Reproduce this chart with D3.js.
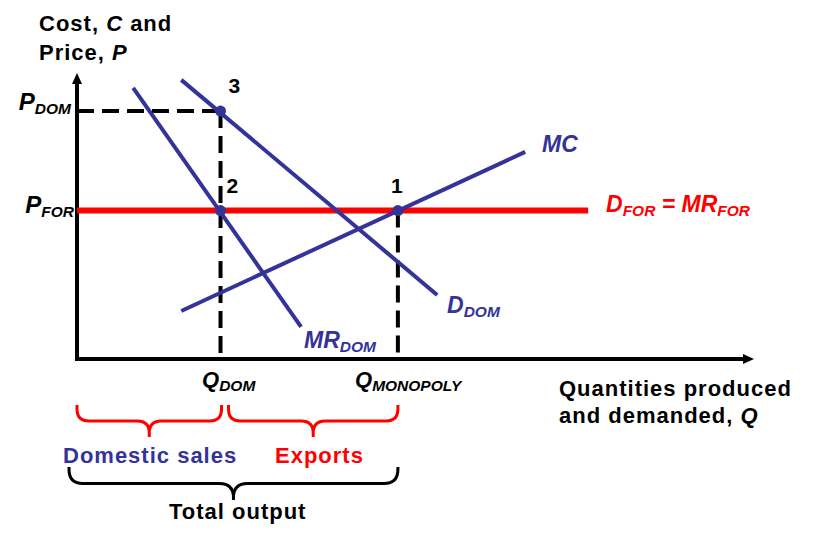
<!DOCTYPE html>
<html><head><meta charset="utf-8">
<script src="https://cdn.jsdelivr.net/npm/d3@7"></script>
<style>
html,body{margin:0;padding:0;background:#fff;}
svg{display:block;font-family:Arial,"Liberation Sans",sans-serif;font-weight:bold;}
</style></head>
<body>
<svg id="chart" width="813" height="541"></svg>
<script>
// ---- data (economic units, both axes 0..10) ----
const curveNames = ["MR_DOM", "D_DOM", "MC"];
const mrDom = [[0.83, 9.48], [3.31, 1.12]];
const dDom  = [[1.54, 9.76], [5.32, 2.24]];
const mc    = [[1.54, 1.68], [6.62, 7.24]];
const pFor = 5.19;
const pDom = 8.67;
const qDom = 2.12;
const qMonopoly = 4.74;
const dForEnd = 7.55;
const pointLabels = ["3", "2", "1"];
const points = [[qDom, pDom], [qDom, pFor], [qMonopoly, pFor]];
const braceLabels = ["Domestic sales", "Exports", "Total output"];

const BLUE = "#333399", RED = "#ff0000";
const svg = d3.select("#chart");
const x = d3.scaleLinear().domain([0, 10]).range([77, 754]);
const y = d3.scaleLinear().domain([0, 10]).range([359, 73]);
const line = d3.line().x(d => x(d[0])).y(d => y(d[1]));

// axes
const ax = svg.append("g");
ax.append("line").attr("x1", x(0)).attr("x2", x(0)).attr("y1", y(0) + 2).attr("y2", y(10) + 8)
  .attr("stroke", "#000").attr("stroke-width", 4);
ax.append("path").attr("d", `M${x(0)},${y(10)} L${x(0) - 5},${y(10) + 11} L${x(0) + 5},${y(10) + 11} Z`).attr("fill", "#000");
ax.append("line").attr("x1", x(0) - 2).attr("x2", x(10) - 8).attr("y1", y(0)).attr("y2", y(0))
  .attr("stroke", "#000").attr("stroke-width", 4);
ax.append("path").attr("d", `M${x(10)},${y(0)} L${x(10) - 11},${y(0) - 5} L${x(10) - 11},${y(0) + 5} Z`).attr("fill", "#000");

// dashed guides
const dash = "17,8";
svg.append("path").attr("d", line([[0, pDom], [qDom, pDom]])).attr("stroke", "#000").attr("stroke-width", 4).attr("stroke-dasharray", dash).attr("fill", "none");
svg.append("path").attr("d", line([[qDom, pDom], [qDom, 0]])).attr("stroke", "#000").attr("stroke-width", 4).attr("stroke-dasharray", dash).attr("fill", "none");
svg.append("path").attr("d", line([[qMonopoly, pFor], [qMonopoly, 0]])).attr("stroke", "#000").attr("stroke-width", 4).attr("stroke-dasharray", dash).attr("fill", "none");

// foreign demand
svg.append("path").attr("d", line([[0, pFor], [dForEnd, pFor]])).attr("stroke", RED).attr("stroke-width", 6).attr("fill", "none");

// curves
[mrDom, dDom, mc].forEach(c => {
  svg.append("path").attr("d", line(c)).attr("stroke", BLUE).attr("stroke-width", 4).attr("fill", "none");
});

// points
svg.selectAll("circle.pt").data(points).enter().append("circle")
  .attr("cx", d => x(d[0])).attr("cy", d => y(d[1])).attr("r", 5.5).attr("fill", BLUE);

// point numbers
const numOff = [[8, -18], [6, -18], [-7, -18]];
svg.selectAll("text.num").data(pointLabels).enter().append("text")
  .attr("x", (d, i) => x(points[i][0]) + numOff[i][0]).attr("y", (d, i) => y(points[i][1]) + numOff[i][1])
  .attr("font-size", 21).attr("fill", "#000").text(d => d);

// labels with subscripts
function lab(px, py, main, sub, color, size, anchor, rest, restSub) {
  const t = svg.append("text").attr("x", px).attr("y", py).attr("fill", color)
    .attr("font-size", size).attr("font-style", "italic").attr("text-anchor", anchor || "start");
  t.append("tspan").text(main);
  if (sub) t.append("tspan").attr("font-size", 15.5).attr("dy", 4).text(sub);
  if (rest) {
    t.append("tspan").attr("dy", -4).text(rest);
    t.append("tspan").attr("font-size", 15.5).attr("dy", 4).text(restSub);
  }
  return t;
}
lab(71, 110, "P", "DOM", "#000", 24, "end");
lab(74, 213, "P", "FOR", "#000", 24, "end");
lab(542, 152, "MC", null, BLUE, 23);
lab(606, 212, "D", "FOR", RED, 23, "start", " = MR", "FOR");
lab(447, 313, "D", "DOM", BLUE, 23);
lab(304, 348, "MR", "DOM", BLUE, 23);
lab(202, 387, "Q", "DOM", "#000", 22);
lab(355, 387, "Q", "MONOPOLY", "#000", 22);

// axis titles
const ts = { size: 22, ls: 1 };
const tt = svg.append("text").attr("x", 39).attr("y", 31).attr("font-size", ts.size).attr("letter-spacing", ts.ls).attr("fill", "#000");
tt.append("tspan").text("Cost, ");
tt.append("tspan").attr("font-style", "italic").text("C");
tt.append("tspan").text(" and");
const tt2 = svg.append("text").attr("x", 39).attr("y", 60).attr("font-size", ts.size).attr("letter-spacing", ts.ls).attr("fill", "#000");
tt2.append("tspan").text("Price, ");
tt2.append("tspan").attr("font-style", "italic").text("P");
svg.append("text").attr("x", 559).attr("y", 396).attr("font-size", ts.size).attr("letter-spacing", ts.ls).attr("fill", "#000").text("Quantities produced");
const xt = svg.append("text").attr("x", 559).attr("y", 423).attr("font-size", ts.size).attr("letter-spacing", ts.ls).attr("fill", "#000");
xt.append("tspan").text("and demanded, ");
xt.append("tspan").attr("font-style", "italic").text("Q");

// braces
function brace(x1, x2, y0, h, r, color) {
  const xm = (x1 + x2) / 2, ym = y0 + h / 2, yt = y0 + h;
  const d = `M${x1},${y0} L${x1},${ym - r} Q${x1},${ym} ${x1 + r},${ym} L${xm - r},${ym} Q${xm},${ym} ${xm},${ym + r} L${xm},${yt}` +
            ` M${x2},${y0} L${x2},${ym - r} Q${x2},${ym} ${x2 - r},${ym} L${xm + r},${ym} Q${xm},${ym} ${xm},${ym + r}`;
  svg.append("path").attr("d", d).attr("stroke", color).attr("stroke-width", 3).attr("fill", "none");
}
brace(x(0), x(qDom) + 1, 405, 32, 12, RED);
brace(x(qDom) + 8, x(qMonopoly), 405, 32, 12, RED);
brace(x(0) - 8, x(qMonopoly), 467, 33, 14, "#000");

svg.append("text").attr("x", 63).attr("y", 463).attr("font-size", ts.size).attr("letter-spacing", ts.ls).attr("fill", BLUE).text(braceLabels[0]);
svg.append("text").attr("x", 275).attr("y", 463).attr("font-size", ts.size).attr("letter-spacing", ts.ls).attr("fill", RED).text(braceLabels[1]);
svg.append("text").attr("x", 169).attr("y", 519).attr("font-size", ts.size).attr("letter-spacing", ts.ls).attr("fill", "#000").text(braceLabels[2]);
</script>
</body></html>
